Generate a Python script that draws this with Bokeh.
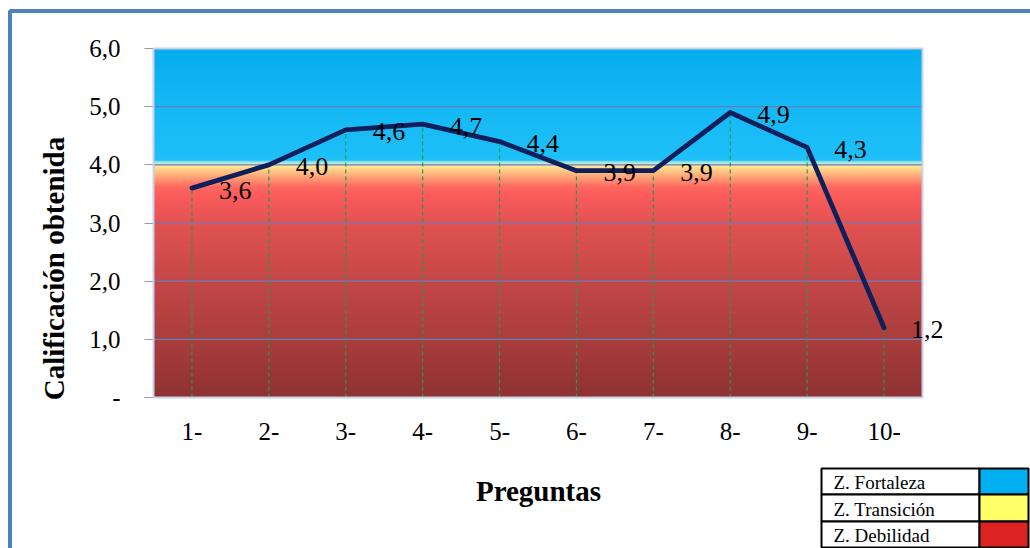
import numpy as np
from bokeh.plotting import figure
from bokeh.models import (Range1d, FixedTicker, ColumnDataSource,
                          LabelSet, Label, BoxAnnotation)
from bokeh.core.properties import value
from bokeh.embed import file_html
from bokeh.resources import INLINE

# ---- data -------------------------------------------------------------
preguntas = ["1-", "2-", "3-", "4-", "5-", "6-", "7-", "8-", "9-", "10-"]
calificacion = [3.6, 4.0, 4.6, 4.7, 4.4, 3.9, 3.9, 4.9, 4.3, 1.2]

y_ticks = [0, 1, 2, 3, 4, 5, 6]
y_tick_labels = ["-", "1,0", "2,0", "3,0", "4,0", "5,0", "6,0"]

zonas = ["Z. Fortaleza", "Z. Transición", "Z. Debilidad"]
zona_colores = ["#00B0F0", "#FFFF66", "#DD2222"]

# ---- layout -----------------------------------------------------------
W, H = 1030, 548
FL, FR, FT, FB = 153, 922, 48, 397          # plot-area edges on the page
SERIF = "Liberation Serif"
n = len(preguntas)
x_pos = np.arange(n) + 0.5                    # category centres
y_max = y_ticks[-1]

# the frame fills the page; ranges are chosen so the plot area sits at FL..FR / FT..FB
kx = (FR - FL) / n
ky = (FB - FT) / y_max
x_range = Range1d(-FL / kx, n + (W - FR) / kx)
y_range = Range1d(-(H - FB) / ky, y_max + FT / ky)

p = figure(width=W, height=H, x_range=x_range, y_range=y_range,
           output_backend="svg", toolbar_location=None,
           min_border_left=0, min_border_right=0,
           min_border_top=0, min_border_bottom=0)
p.title.visible = False
p.background_fill_color = "white"
p.border_fill_color = "white"
p.outline_line_color = None
p.xgrid.visible = False
p.ygrid.visible = False

# ---- zone background (vertical colour gradient) -----------------------
stops = [
    (0.00, (0x8E, 0x31, 0x31)),
    (1.00, (0xAA, 0x3D, 0x3D)),
    (2.00, (0xC4, 0x47, 0x47)),
    (3.00, (0xE2, 0x52, 0x52)),
    (3.45, (0xFA, 0x5B, 0x5B)),
    (3.62, (0xFF, 0x68, 0x60)),
    (3.80, (0xFF, 0xA6, 0x78)),
    (3.97, (0xFF, 0xE4, 0x90)),
    (4.00, (0xFF, 0xEC, 0x9C)),
    (4.001, (0xC0, 0xEE, 0xDC)),
    (4.05, (0x9E, 0xE4, 0xE6)),
    (4.08, (0x1E, 0xC0, 0xF8)),
    (5.00, (0x14, 0xB8, 0xF4)),
    (6.00, (0x05, 0xAD, 0xEE)),
]
N = 1200
ys = (np.arange(N) + 0.5) / N * y_max
sy = [s[0] for s in stops]
img = np.zeros((N, 1), dtype=np.uint32)
px = img.view(dtype=np.uint8).reshape((N, 1, 4))
for ch in range(3):
    px[:, 0, ch] = np.round(np.interp(ys, sy, [s[1][ch] for s in stops])).astype(np.uint8)
px[:, 0, 3] = 255
p.image_rgba(image=[img], x=0, y=0, dw=n, dh=y_max)

# horizontal gridlines at the inner ticks
inner = y_ticks[1:-1]
p.segment(x0=[0] * len(inner), y0=inner, x1=[n] * len(inner), y1=inner,
          line_color="#6A7BBE", line_width=1.2)

# plot-area border
p.add_layout(BoxAnnotation(left=0, right=n, bottom=0, top=y_max,
                           fill_color=None, line_color="#C9D0EE",
                           line_alpha=1, line_width=2))

# ---- axes pinned to the plot-area edges ---------------------------------
yax = p.yaxis[0]
yax.fixed_location = 0
yax.bounds = (0, y_max)
yax.ticker = FixedTicker(ticks=y_ticks)
yax.major_label_overrides = dict(zip(y_ticks, y_tick_labels))
yax.major_tick_out = 9
yax.major_tick_in = 0
yax.minor_tick_line_color = None
yax.axis_line_color = "#A8ACC0"
yax.major_tick_line_color = "#9A9A9A"
yax.major_label_standoff = 24

xax = p.xaxis[0]
xax.fixed_location = 0
xax.bounds = (0, n)
xax.ticker = FixedTicker(ticks=list(x_pos))
xax.major_label_overrides = {float(x): lab for x, lab in zip(x_pos, preguntas)}
xax.major_tick_line_color = None
xax.minor_tick_line_color = None
xax.major_tick_out = 0
xax.major_tick_in = 0
xax.axis_line_color = "#C9D0EE"
xax.major_label_standoff = 25

for ax in (xax, yax):
    ax.major_label_text_font = SERIF
    ax.major_label_text_font_size = "25px"
    ax.major_label_text_color = "black"

# ---- series -----------------------------------------------------------
p.segment(x0=x_pos, y0=[0] * n, x1=x_pos, y1=calificacion,
          line_color="#1E9E48", line_width=1.2, line_dash="4 3")
p.line(x_pos, calificacion, line_color="#0E1F5B", line_width=4.8,
       line_join="round", line_cap="round")

src = ColumnDataSource(dict(
    x=x_pos, y=calificacion,
    txt=[f"{v:.1f}".replace(".", ",") for v in calificacion]))
p.add_layout(LabelSet(x="x", y="y", text="txt", source=src,
                      x_offset=27, y_offset=-2,
                      text_font=value(SERIF), text_font_size="26px",
                      text_color="black", text_align="left",
                      text_baseline="middle"))

# ---- axis titles --------------------------------------------------------
p.add_layout(Label(x=538, y=490, x_units="canvas", y_units="canvas",
                   text="Preguntas", text_font=SERIF, text_font_size="29px",
                   text_font_style="bold", text_color="black",
                   text_align="center", text_baseline="middle"))
p.add_layout(Label(x=53, y=268, x_units="canvas", y_units="canvas",
                   angle=np.pi / 2, text="Calificación obtenida",
                   text_font=SERIF, text_font_size="29px",
                   text_font_style="bold", text_color="black",
                   text_align="center", text_baseline="middle"))

# ---- outer frame -------------------------------------------------------
p.add_layout(BoxAnnotation(left=9.5, right=W + 60, top=10.5, bottom=H + 60,
                           left_units="canvas", right_units="canvas",
                           top_units="canvas", bottom_units="canvas",
                           fill_color=None, line_color="#4F81BD",
                           line_alpha=1, line_width=4))

# ---- zone legend table -------------------------------------------------
row_edges = [468, 494, 521, 547]
col_l, col_m, col_r = 821, 979, 1028
for i, (name, col) in enumerate(zip(zonas, zona_colores)):
    top, bot = row_edges[i], row_edges[i + 1]
    for l, r, fc in ((col_l, col_m, "white"), (col_m, col_r, col)):
        p.add_layout(BoxAnnotation(left=l, right=r, top=top, bottom=bot,
                                   left_units="canvas", right_units="canvas",
                                   top_units="canvas", bottom_units="canvas",
                                   fill_color=fc, fill_alpha=1,
                                   line_color="black", line_alpha=1,
                                   line_width=2))
    p.add_layout(Label(x=833, y=(top + bot) / 2 + 1, x_units="canvas",
                       y_units="canvas", text=name, text_font=SERIF,
                       text_font_size="19px", text_color="black",
                       text_baseline="middle", text_align="left"))

open("out.html", "w").write(file_html(p, INLINE))
